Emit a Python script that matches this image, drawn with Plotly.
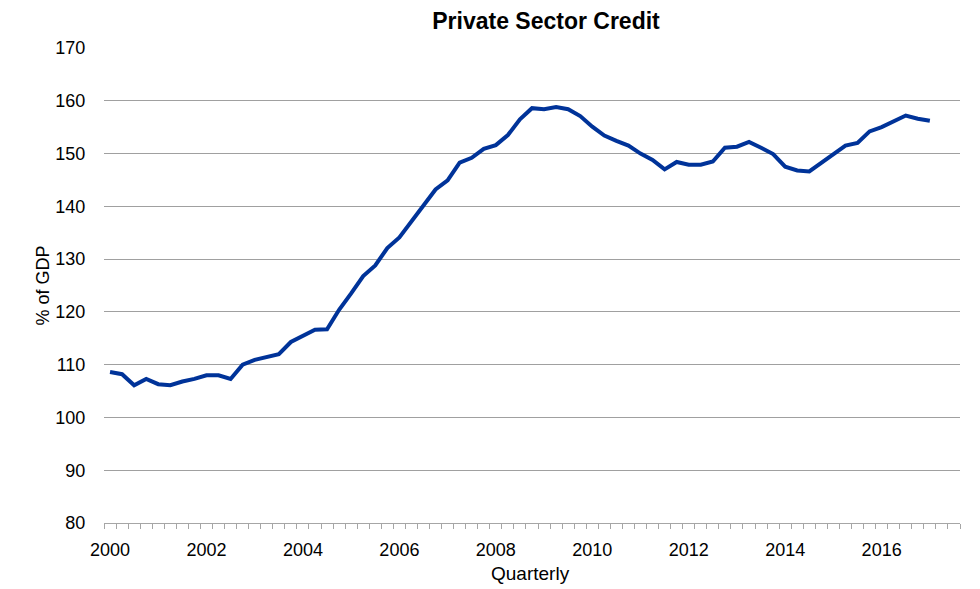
import plotly.graph_objects as go

years = [str(y) for y in range(2000, 2018)]
quarters = [f"{y}Q{q}" for y in range(2000, 2018) for q in range(1, 5)][:69]

credit = [108.6, 108.2, 106.1, 107.3, 106.3, 106.1, 106.8, 107.3, 108.0, 108.0,
          107.3, 110.0, 110.9, 111.5, 112.0, 114.3, 115.5, 116.6, 116.7, 120.4,
          123.5, 126.8, 128.8, 132.1, 134.1, 137.2, 140.1, 143.2, 144.9, 148.3,
          149.2, 150.9, 151.6, 153.5, 156.5, 158.6, 158.4, 158.8, 158.4, 157.1,
          155.1, 153.4, 152.4, 151.5, 150.0, 148.8, 147.0, 148.4, 147.9, 147.9,
          148.5, 151.1, 151.3, 152.2, 151.1, 149.9, 147.5, 146.8, 146.6, 148.3,
          150.0, 151.5, 152.0, 154.2, 155.0, 156.0, 157.2, 156.6, 156.2]

x_idx = list(range(len(quarters)))
n_slots = 71
label_idx = [quarters.index(f"{y}Q1") for y in years if f"{y}Q1" in quarters and int(y) % 2 == 0]
label_txt = [quarters[i][:4] for i in label_idx]

FONT = "Liberation Sans, Arial, sans-serif"
OFF = 8  # page body offset
W, H = 980 - OFF, 589 - OFF
PL, PR, PT, PB = 104, 960, 48, 523  # plot area in page pixels
pw, ph = PR - PL, PB - PT

fig = go.Figure()
fig.add_trace(go.Scatter(
    x=x_idx, y=credit, mode="lines",
    line=dict(color="#003399", width=4),
    showlegend=False, hoverinfo="skip"
))

fig.update_layout(
    width=W, height=H,
    margin=dict(l=PL - OFF, r=W + OFF - PR, t=PT - OFF, b=H + OFF - PB),
    paper_bgcolor="white", plot_bgcolor="white",
    font=dict(family=FONT, size=18, color="#000000"),
    title=dict(text="<b>Private Sector Credit</b>", x=(546 - OFF) / W, xanchor="center",
               y=1 - (21 - OFF) / H, yanchor="middle",
               font=dict(family=FONT, size=23, color="#000000")),
    xaxis=dict(
        range=[-0.5, n_slots - 0.5],
        tickmode="array", tickvals=label_idx, ticktext=label_txt,
        ticks="outside", ticklen=10, tickcolor="rgba(0,0,0,0)",
        showgrid=False, zeroline=False,
        showline=True, linecolor="#a6a6a6", linewidth=1,
        minor=dict(tick0=-0.5, dtick=1, ticks="outside", ticklen=5,
                   tickcolor="#a6a6a6", tickwidth=1, showgrid=False),
        tickfont=dict(family=FONT, size=18, color="#000000"),
    ),
    yaxis=dict(
        range=[80, 170], dtick=10, tick0=80,
        ticks="outside", ticklen=14, tickcolor="rgba(0,0,0,0)",
        showgrid=True, gridcolor="#a0a0a0", gridwidth=1,
        zeroline=False, showline=False,
        tickfont=dict(family=FONT, size=18, color="#000000"),
    ),
    annotations=[
        dict(text="% of GDP", xref="paper", yref="paper",
             x=(42 - PL) / pw, y=0.5, xanchor="center", yanchor="middle",
             textangle=-90, showarrow=False,
             font=dict(family=FONT, size=18, color="#000000")),
        dict(text="Quarterly", xref="paper", yref="paper",
             x=(530 - PL) / pw, y=-(573 - PB) / ph, xanchor="center", yanchor="middle",
             showarrow=False,
             font=dict(family=FONT, size=19, color="#000000")),
    ],
)

fig.write_html("out.html")
